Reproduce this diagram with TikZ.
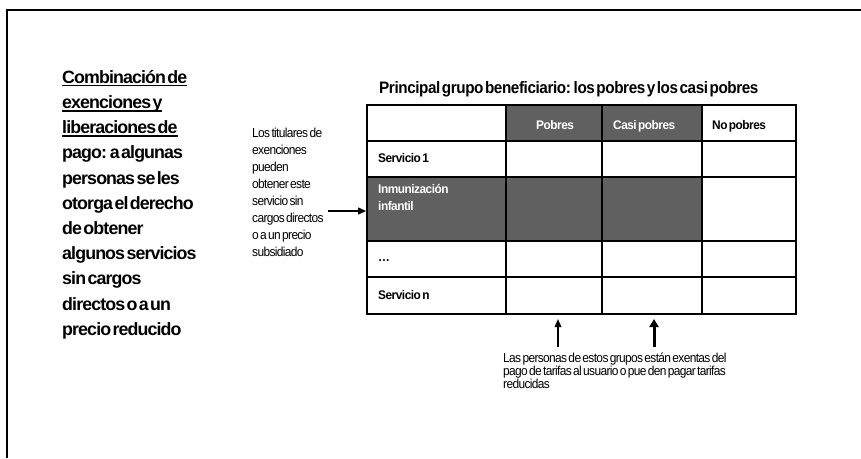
\documentclass[tikz,border=0pt]{standalone}
\usepackage{fontspec}
\setmainfont{Liberation Sans}
\newfontfamily\leftfont[LetterSpace=-5,WordSpace=0.35]{Liberation Sans}
\newfontfamily\titlefont[FakeStretch=0.92,LetterSpace=-2.5,WordSpace=0.4]{Liberation Sans}
\newfontfamily\notefont[FakeStretch=0.92,LetterSpace=-5,WordSpace=0.5]{Liberation Sans}
\newfontfamily\cellfont[FakeStretch=0.95,LetterSpace=-4,WordSpace=0.5]{Liberation Sans}
\usetikzlibrary{arrows.meta}
\definecolor{cellgray}{RGB}{96,96,96}
% underlined line with a heavier rule than \underline
\newcommand{\ulline}[1]{\sbox0{#1}\rlap{\rule[-3.2pt]{\wd0}{1.4pt}}\usebox0}

\begin{document}
\begin{tikzpicture}[x=1pt,y=-1pt,
  leftline/.style={anchor=base west,inner sep=0pt,
    font=\leftfont\bfseries\fontsize{17.8}{20}\selectfont},
  noteline/.style={anchor=base west,inner sep=0pt,
    font=\notefont\fontsize{13}{14}\selectfont},
  celltext/.style={anchor=base west,inner sep=0pt,
    font=\cellfont\bfseries\fontsize{12.5}{14}\selectfont},
  whitetext/.style={celltext,text=white},
  grid/.style={line width=2.2pt,line cap=rect},
  frame/.style={line width=2pt},
  arr/.style={line width=1.5pt,-{Triangle[length=8pt,width=7pt]}},
  thinup/.style={line width=1.6pt,-{Triangle[length=8pt,width=6.5pt]}},
  thickup/.style={line width=3pt,-{Triangle[length=8pt,width=9pt]}}]

\useasboundingbox (0,0) rectangle (861,458);
\fill[white] (0,0) rectangle (861,458);

% open frame: left and top edges
\draw[frame] (7,458) -- (7,10) -- (861,10);

% left block of text
\foreach \t [count=\i] in {%
  {\ulline{Combinación de}},{\ulline{exenciones y}},{\ulline{liberaciones de}},
  {pago: a algunas},{personas se les},{otorga el derecho},{de obtener},
  {algunos servicios},{sin cargos},{directos o a un},{precio reducido}}
  \node[leftline] (L\i) at (62,58+25.2*\i) {\t};

% note beside the table
\foreach \t [count=\i] in {%
  {Los titulares de},{exenciones},{pueden},{obtener este},{servicio sin},
  {cargos directos},{o a un precio},{subsidiado}}
  \node[noteline] (N\i) at (252,121+16.9*\i) {\t};

% title over the table
\node[anchor=base west,inner sep=0pt,
  font=\titlefont\bfseries\fontsize{16.6}{18}\selectfont] (title) at (379,93.5)
  {Principal grupo beneficiario: los pobres y los casi pobres};

% table: shaded cells
\fill[cellgray] (506,105) rectangle (702,141);
\fill[cellgray] (367,177) rectangle (702,241);

% table: grid
\draw[grid] (367,105) rectangle (796,314);
\foreach \x in {506,602,702} \draw[grid] (\x,105) -- (\x,314);
\foreach \y in {141,177,241,277} \draw[grid] (367,\y) -- (796,\y);

% table: header and row labels
\node[whitetext] (hP) at (536,129) {Pobres};
\node[whitetext] (hC) at (613,129) {Casi pobres};
\node[celltext]  (hN) at (712,129) {No pobres};
\node[celltext]  (r1) at (378,162) {Servicio 1};
\node[whitetext] (r2a) at (378,193) {Inmunización};
\node[whitetext] (r2b) at (378,210) {infantil};
\node[celltext]  (r3) at (378,261) {…};
\node[celltext]  (r4) at (378,299) {Servicio n};

% note below the table
\node[noteline] (B1) at (503,362.5) {Las personas de estos grupos están exentas del};
\node[noteline] (B2) at (503,375.5) {pago de tarifas al usuario o pue den pagar tarifas};
\node[noteline] (B3) at (503,388.5) {reducidas};

% arrows
\coordinate (aLs) at (328,211);
\coordinate (aLe) at (366,211);
\draw[arr] (aLs) -- (aLe);
\coordinate (aPs) at (558,347);
\coordinate (aPe) at (558,319);
\draw[thinup] (aPs) -- (aPe);
\coordinate (aCs) at (654,347);
\coordinate (aCe) at (654,319);
\draw[thickup] (aCs) -- (aCe);
\end{tikzpicture}
\end{document}
